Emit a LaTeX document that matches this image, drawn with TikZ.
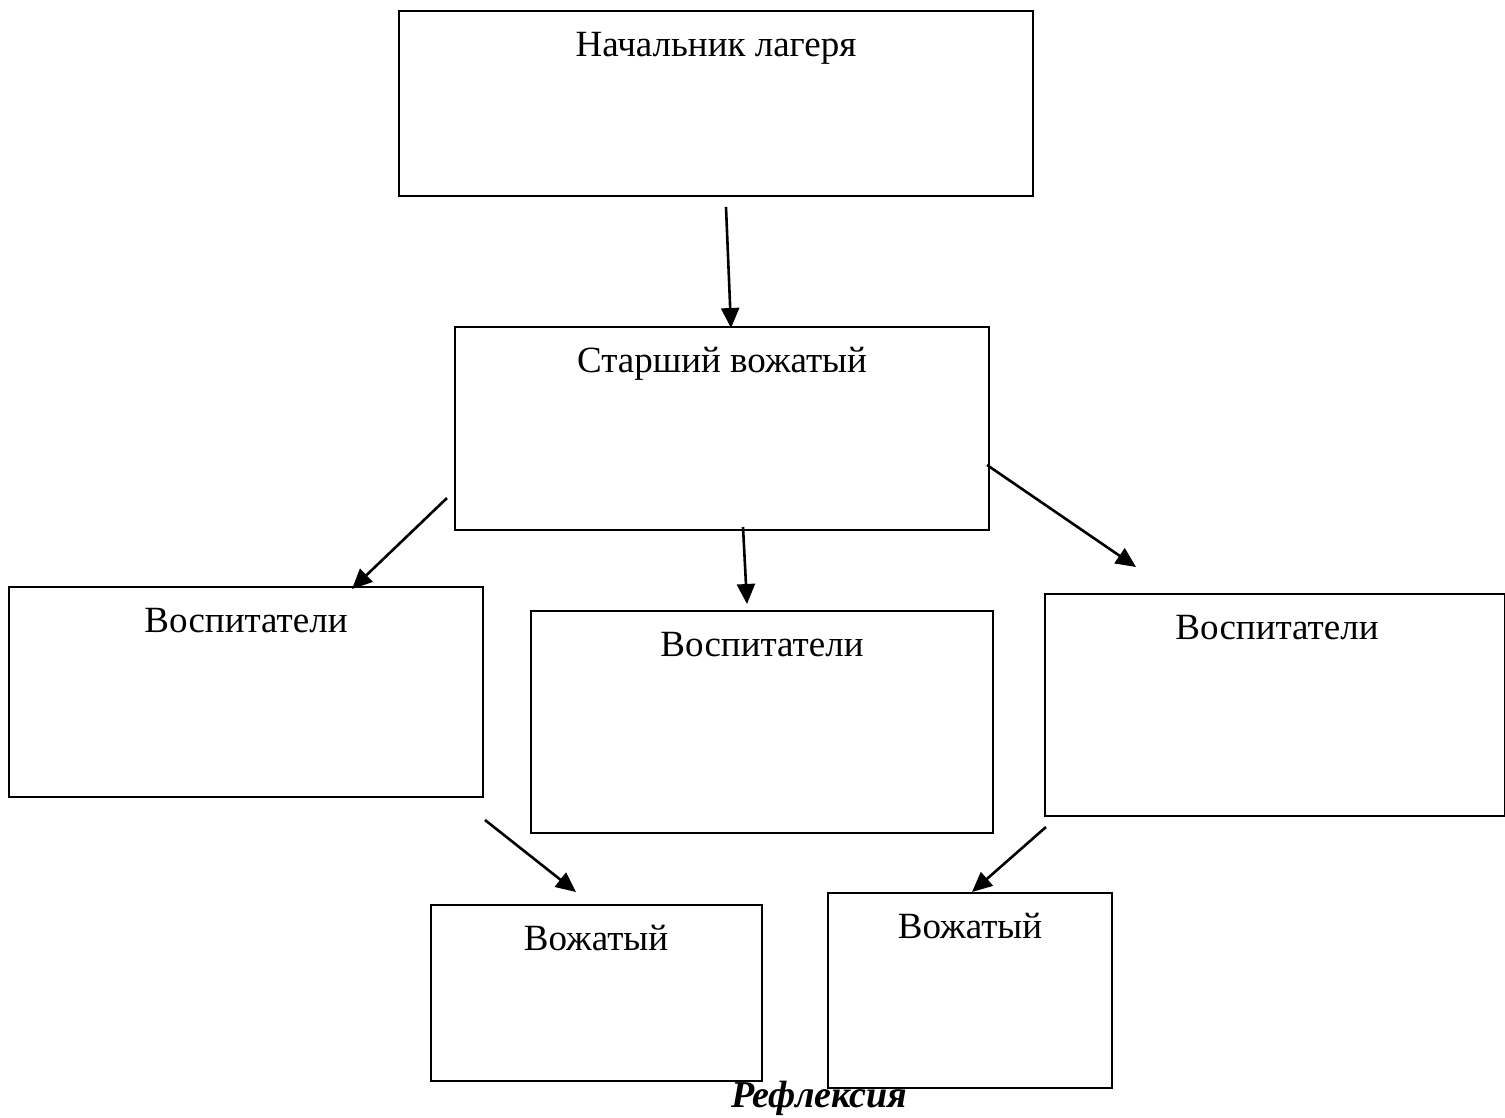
\documentclass[tikz,border=0pt]{standalone}
\usepackage{fontspec}
\setmainfont{Liberation Serif}
\usetikzlibrary{arrows.meta}
\tikzset{
  box/.style={draw=black, line width=2pt, inner sep=0pt},
  lbl/.style={font=\fontsize{37}{42}\selectfont, inner sep=0pt, anchor=base},
  arr/.style={line width=2.6pt, -{Triangle[length=20pt,width=18pt]}}
}
\begin{document}
\begin{tikzpicture}[x=1pt,y=-1pt]
\useasboundingbox (0,0) rectangle (1505,1117);
\fill[white] (0,0) rectangle (1505,1117);
% boxes
\draw[box] (399,11) rectangle (1033,196);
\node[lbl] (t1) at (716,56) {Начальник лагеря};
\draw[box] (455,327) rectangle (989,530);
\node[lbl] (t2) at (722,372) {Старший вожатый};
\draw[box] (9,587) rectangle (483,797);
\node[lbl] (t3) at (246,632) {Воспитатели};
\draw[box] (531,611) rectangle (993,833);
\node[lbl] (t4) at (762,656) {Воспитатели};
\draw[box] (1045,594) rectangle (1505,816);
\node[lbl] (t5) at (1277,639) {Воспитатели};
\draw[box] (431,905) rectangle (762,1081);
\node[lbl] (t6) at (596,950) {Вожатый};
\draw[box] (828,893) rectangle (1112,1088);
\node[lbl] (t7) at (970,938) {Вожатый};
\node[lbl, font=\fontsize{38}{42}\selectfont\bfseries\itshape] (refl) at (819,1107) {Рефлексия};
% arrow endpoints
\coordinate (a1s) at (726,207); \coordinate (a1e) at (731,328);
\coordinate (a2s) at (447,498); \coordinate (a2e) at (352,589);
\coordinate (a3s) at (743,527); \coordinate (a3e) at (747,604);
\coordinate (a4s) at (987,465); \coordinate (a4e) at (1136,567);
\coordinate (a5s) at (485,820); \coordinate (a5e) at (576,892);
\coordinate (a6s) at (1046,827); \coordinate (a6e) at (972,892);
\draw[arr] (a1s) -- (a1e);
\draw[arr] (a2s) -- (a2e);
\draw[arr] (a3s) -- (a3e);
\draw[arr] (a4s) -- (a4e);
\draw[arr] (a5s) -- (a5e);
\draw[arr] (a6s) -- (a6e);
\end{tikzpicture}
\end{document}
